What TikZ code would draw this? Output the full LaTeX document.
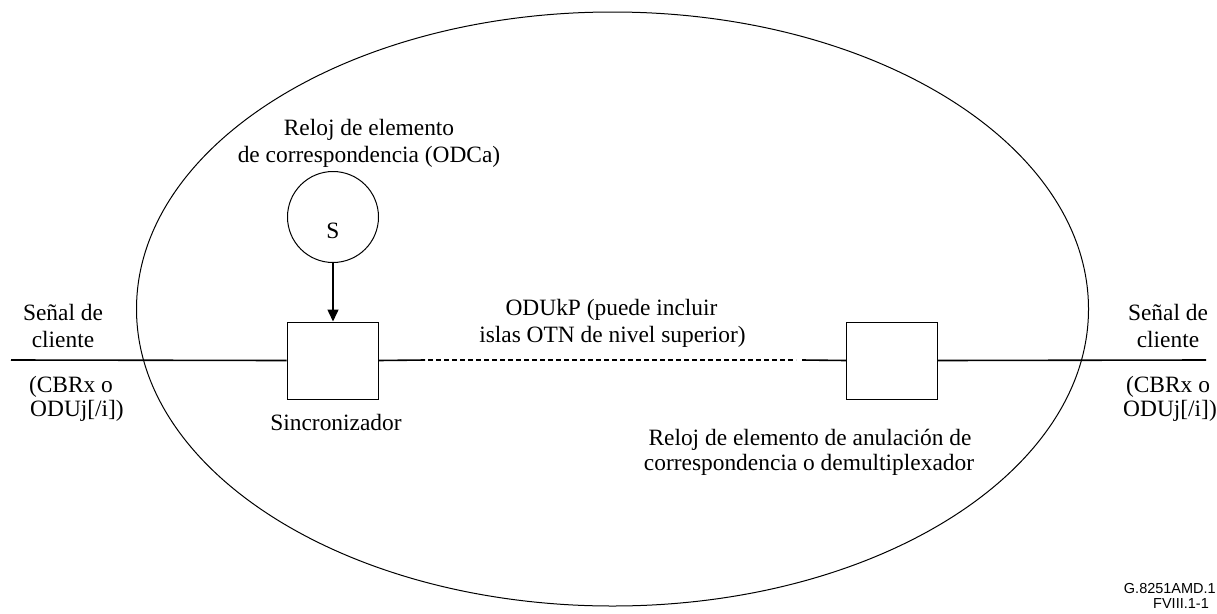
\documentclass[tikz,border=0pt]{standalone}
\usepackage{fontspec}
\setmainfont{Liberation Serif}
\newfontfamily\labelsans{Liberation Sans}
\usetikzlibrary{arrows.meta}
\begin{document}
\begin{tikzpicture}[x=1pt,y=-1pt,
  txt/.style={font=\fontsize{23.4}{27}\selectfont, inner sep=0pt, anchor=base},
  reftxt/.style={font=\labelsans\fontsize{14.5}{16}\selectfont, inner sep=0pt},
  blockbox/.style={draw, line width=1pt, minimum width=91pt, minimum height=77pt, inner sep=0pt},
  clockc/.style={draw, circle, line width=1pt, minimum size=91pt, inner sep=0pt},
  sigline/.style={line width=1.6pt},
  dashline/.style={line width=1.3pt, dash pattern=on 5pt off 3pt},
  arrowline/.style={line width=1.5pt, -{Triangle[length=12pt,width=11pt]}}]
\useasboundingbox (0,0) rectangle (1217,613);
\draw[line width=1pt] (612.5,309) ellipse [x radius=476, y radius=297];

% blocks
\node[blockbox] (sync) at (332.5,360.5) {};
\node[blockbox] (demux) at (892,360.5) {};
\node[clockc] (clk) at (333,217) {};
\node[txt] (clks) at (333,238) {S};

% connectors
\coordinate (lin) at (11,360);
\coordinate (rin) at (1206,360);
\coordinate (d1) at (425,360);
\coordinate (d2) at (428,360);
\coordinate (d3) at (796,360);
\coordinate (d4) at (802,360);
\draw[sigline] (lin) -- (sync.west);
\draw[sigline] (sync.east) -- (d1);
\draw[dashline] (d2) -- (d3);
\draw[sigline] (d4) -- (demux.west);
\draw[sigline] (demux.east) -- (rin);
\draw[arrowline] (clk.south) -- (clk.south |- sync.north);

% texts
\node[txt] (sl1) at (63,320) {Señal de};
\node[txt] (sl2) at (63,347) {cliente};
\node[txt] (cl1) at (71,392) {(CBRx o};
\node[txt] (cl2) at (77,416) {ODUj[/i])};
\node[txt] (sr1) at (1168,320) {Señal de};
\node[txt] (sr2) at (1168,347) {cliente};
\node[txt] (cr1) at (1168,392) {(CBRx o};
\node[txt] (cr2) at (1170,416) {ODUj[/i])};
\node[txt] (ck1) at (369,135) {Reloj de elemento};
\node[txt] (ck2) at (369,162) {de correspondencia (ODCa)};
\node[txt] (od1) at (611.5,315) {ODUkP (puede incluir};
\node[txt] (od2) at (612.5,342) {islas OTN de nivel superior)};
\node[txt] (syn) at (336,430) {Sincronizador};
\node[txt] (dm1) at (810,445) {Reloj de elemento de anulación de};
\node[txt] (dm2) at (809,470) {correspondencia o demultiplexador};
\node[reftxt, anchor=base east] (ref1) at (1216,593) {G.8251AMD.1};
\node[reftxt, anchor=base] (ref2) at (1181,608) {FVIII.1-1};
\end{tikzpicture}
\end{document}
